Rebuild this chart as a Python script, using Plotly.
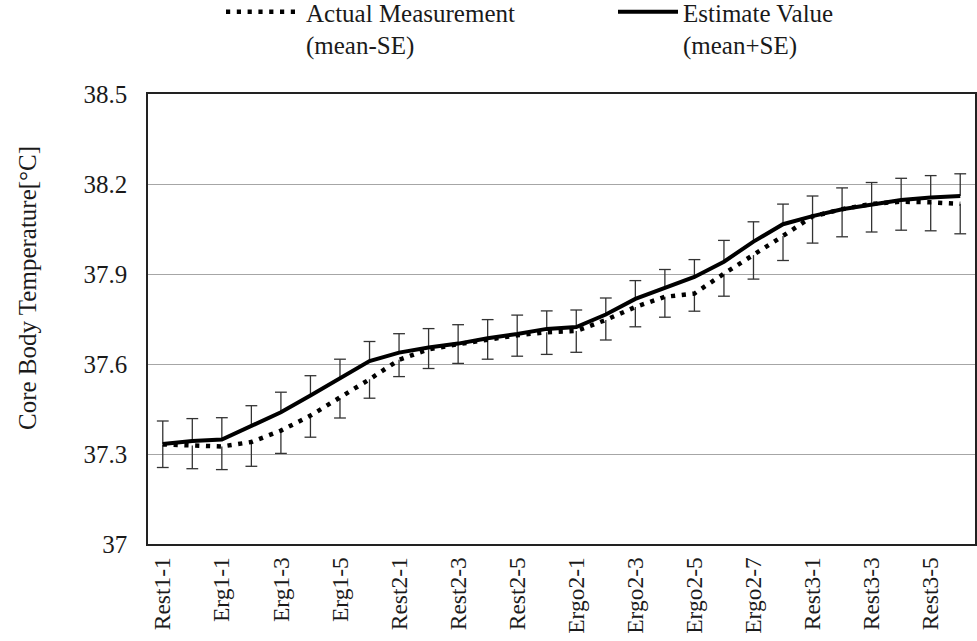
import plotly.graph_objects as go

# Measurement stages (x axis), every other one is labelled
categories = [
    "Rest1-1", "Rest1-2",
    "Erg1-1", "Erg1-2", "Erg1-3", "Erg1-4", "Erg1-5", "Erg1-6",
    "Rest2-1", "Rest2-2", "Rest2-3", "Rest2-4", "Rest2-5", "Rest2-6",
    "Ergo2-1", "Ergo2-2", "Ergo2-3", "Ergo2-4", "Ergo2-5", "Ergo2-6", "Ergo2-7", "Ergo2-8",
    "Rest3-1", "Rest3-2", "Rest3-3", "Rest3-4", "Rest3-5", "Rest3-6",
]

# Core body temperature means [°C]
actual_mean = [37.332, 37.328, 37.325, 37.340, 37.378, 37.428, 37.487, 37.549,
               37.614, 37.649, 37.666, 37.682, 37.696, 37.706, 37.710, 37.747,
               37.790, 37.824, 37.835, 37.901, 37.963, 38.027, 38.092, 38.116,
               38.134, 38.141, 38.139, 38.134]
estimate_mean = [37.333, 37.343, 37.348, 37.394, 37.439, 37.495, 37.551, 37.610,
                 37.638, 37.655, 37.668, 37.686, 37.700, 37.717, 37.723, 37.765,
                 37.817, 37.853, 37.890, 37.941, 38.008, 38.066, 38.093, 38.116,
                 38.133, 38.147, 38.155, 38.160]

# Standard errors (actual drawn as mean-SE, estimate as mean+SE)
actual_se = [0.077, 0.077, 0.077, 0.081, 0.076, 0.072, 0.067, 0.063, 0.056, 0.064,
             0.064, 0.066, 0.070, 0.074, 0.071, 0.067, 0.066, 0.068, 0.059, 0.075,
             0.080, 0.082, 0.089, 0.092, 0.094, 0.095, 0.095, 0.100]
estimate_se = [0.077, 0.075, 0.073, 0.067, 0.067, 0.066, 0.065, 0.065, 0.063, 0.063,
               0.063, 0.062, 0.063, 0.060, 0.057, 0.055, 0.061, 0.062, 0.058, 0.071,
               0.066, 0.067, 0.067, 0.071, 0.072, 0.072, 0.073, 0.074]

y_ticks = [37.0, 37.3, 37.6, 37.9, 38.2, 38.5]

FONT = "Liberation Serif"
INK = "#1a1a1a"
FS = 25
CAP = 0.2  # half width of error-bar caps, in category units

idx = list(range(len(categories)))

# One-sided error bars: upward from the estimate, downward from the actual value
err_x, err_y = [], []
for i in idx:
    top = estimate_mean[i] + estimate_se[i]
    bot = actual_mean[i] - actual_se[i]
    err_x += [i - CAP, i + CAP, None, i, i, None]
    err_y += [top, top, None, top, estimate_mean[i], None]
    err_x += [i, i, None, i - CAP, i + CAP, None]
    err_y += [actual_mean[i], bot, None, bot, bot, None]

fig = go.Figure()

fig.add_trace(go.Scatter(
    x=err_x, y=err_y, mode="lines",
    line=dict(color="#333333", width=1.3),
    hoverinfo="skip", showlegend=False,
))

fig.add_trace(go.Scatter(
    x=idx, y=actual_mean, mode="lines",
    name="Actual Measurement<br>(mean-SE)", legend="legend",
    line=dict(color="black", width=4.5, dash="4.2px,6.6px"),
))

fig.add_trace(go.Scatter(
    x=idx, y=estimate_mean, mode="lines",
    name="Estimate Value<br>(mean+SE)", legend="legend2",
    line=dict(color="black", width=4),
))

legend_style = dict(
    orientation="v", xanchor="left", yanchor="top", valign="top",
    bgcolor="rgba(0,0,0,0)", tracegroupgap=0,
    itemclick=False, itemdoubleclick=False,
    font=dict(family=FONT, size=FS, color=INK),
)

fig.update_layout(
    width=977, height=641,
    margin=dict(l=148, r=2, t=94, b=97, autoexpand=False),
    paper_bgcolor="white", plot_bgcolor="white",
    font=dict(family=FONT, size=FS, color=INK),
    showlegend=True,
    legend=dict(x=(221 - 148) / 827, y=(544 + 11) / 450, itemwidth=75, **legend_style),
    legend2=dict(x=(613 - 148) / 827, y=(544 + 11) / 450, itemwidth=60, **legend_style),
    annotations=[dict(
        text="Core Body Temperature[°C]", textangle=-90,
        xref="paper", yref="paper", x=(27 - 148) / 827, y=(544 - 288) / 450,
        xanchor="center", yanchor="middle", showarrow=False,
        font=dict(family=FONT, size=FS, color=INK),
    )],
)

fig.update_xaxes(
    range=[-0.5, len(categories) - 0.5],
    tickmode="array", tickvals=idx[::2], ticktext=categories[::2],
    tickangle=-90, ticks="", showgrid=False, zeroline=False,
    showline=True, linecolor="#222", linewidth=1.5, mirror=True,
    ticklabelstandoff=2,
    tickfont=dict(family=FONT, size=23.5, color=INK),
)
fig.update_yaxes(
    range=[37.0, 38.5], tickmode="array", tickvals=y_ticks,
    ticktext=[f"{v:g}" for v in y_ticks],
    ticks="", showgrid=True, gridcolor="#a6a6a6", gridwidth=1, zeroline=False,
    showline=True, linecolor="#222", linewidth=1.5, mirror=True,
    ticklabelstandoff=14,
    tickfont=dict(family=FONT, size=FS, color=INK),
)

fig.write_html("out.html")
